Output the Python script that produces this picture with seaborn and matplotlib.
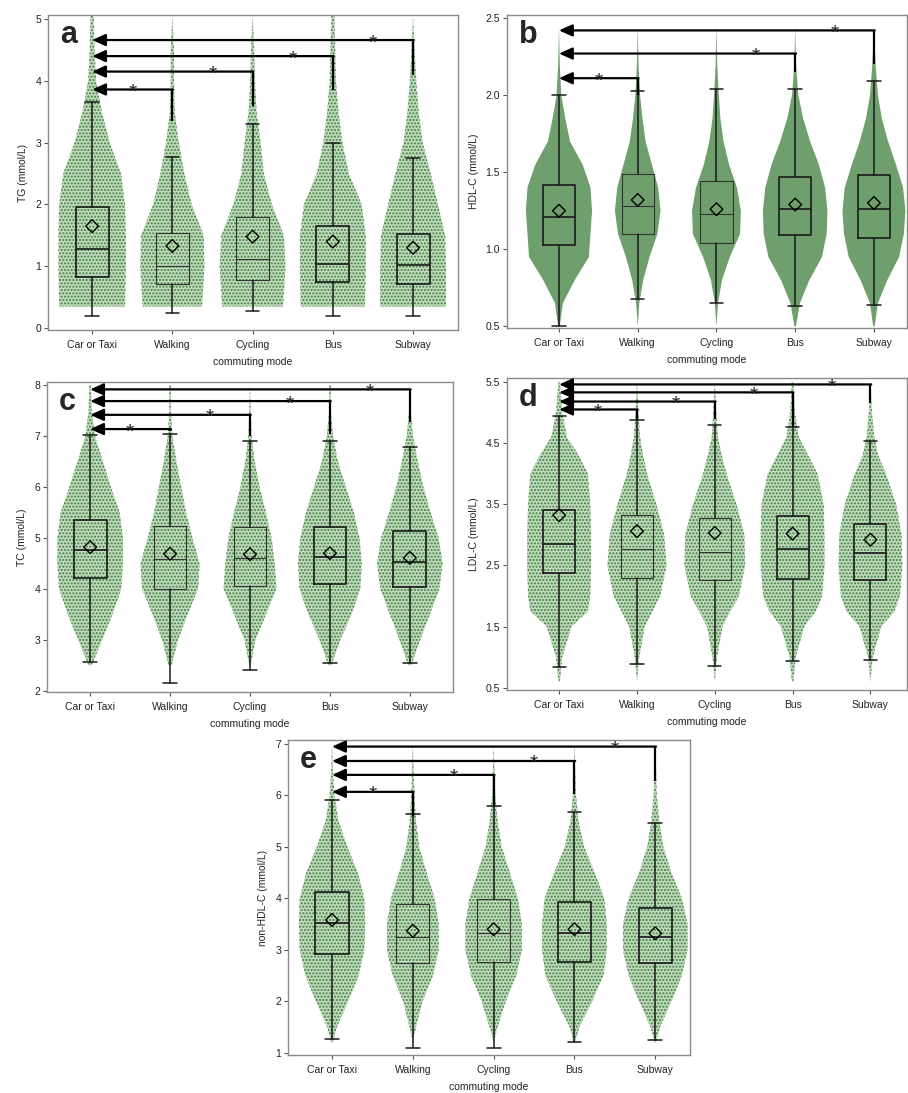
import numpy as np
import pandas as pd
import matplotlib
matplotlib.use("Agg")
import matplotlib.pyplot as plt
import seaborn as sns

# Categorías
modes = ["Car or Taxi", "Walking", "Cycling", "Bus", "Subway"]

# ---- a: TG ----
tg_whislo = [0.20, 0.25, 0.28, 0.20, 0.20]
tg_q1 = [0.82, 0.72, 0.78, 0.74, 0.71]
tg_med = [1.28, 1.00, 1.12, 1.04, 1.02]
tg_q3 = [1.96, 1.54, 1.79, 1.65, 1.52]
tg_whishi = [3.66, 2.77, 3.30, 3.00, 2.75]
tg_mean = [1.65, 1.33, 1.48, 1.40, 1.30]
tg_grid = [0.35, 1.0, 1.5, 2.0, 2.5, 3.0, 3.5, 4.0, 4.5, 5.05]
tg_width = {
    "Car or Taxi": [0.41, 0.42, 0.42, 0.41, 0.36, 0.22, 0.12, 0.05, 0.03, 0.02],
    "Walking": [0.37, 0.40, 0.39, 0.24, 0.15, 0.08, 0.03, 0.02, 0.02, 0.0],
    "Cycling": [0.38, 0.41, 0.39, 0.24, 0.14, 0.10, 0.05, 0.03, 0.02, 0.0],
    "Bus": [0.40, 0.41, 0.41, 0.36, 0.20, 0.12, 0.07, 0.04, 0.03, 0.02],
    "Subway": [0.41, 0.41, 0.40, 0.31, 0.22, 0.12, 0.07, 0.04, 0.02, 0.0],
}
tg_sig_to = [1, 2, 3, 4]
tg_sig_top = [3.86, 4.15, 4.40, 4.66]
tg_sig_base = [3.35, 3.60, 3.85, 4.10]

# ---- b: HDL-C ----
hdl_whislo = [0.50, 0.68, 0.65, 0.63, 0.64]
hdl_q1 = [1.03, 1.10, 1.04, 1.09, 1.07]
hdl_med = [1.21, 1.28, 1.23, 1.26, 1.26]
hdl_q3 = [1.42, 1.49, 1.44, 1.47, 1.48]
hdl_whishi = [2.00, 2.03, 2.04, 2.04, 2.09]
hdl_mean = [1.25, 1.32, 1.26, 1.29, 1.30]
hdl_grid = [0.5, 0.65, 0.8, 0.95, 1.1, 1.25, 1.4, 1.55, 1.7, 1.85, 2.0, 2.2, 2.45]
hdl_width = {
    "Car or Taxi": [0.01, 0.05, 0.20, 0.38, 0.40, 0.42, 0.40, 0.30, 0.14, 0.08, 0.03, 0.01, 0.0],
    "Walking": [0.0, 0.02, 0.07, 0.15, 0.25, 0.29, 0.26, 0.18, 0.10, 0.06, 0.03, 0.01, 0.0],
    "Cycling": [0.0, 0.02, 0.07, 0.17, 0.30, 0.31, 0.26, 0.16, 0.09, 0.05, 0.03, 0.01, 0.0],
    "Bus": [0.01, 0.06, 0.18, 0.34, 0.40, 0.41, 0.38, 0.30, 0.19, 0.10, 0.04, 0.01, 0.0],
    "Subway": [0.01, 0.05, 0.17, 0.32, 0.38, 0.40, 0.37, 0.28, 0.18, 0.10, 0.05, 0.02, 0.0],
}
hdl_sig_to = [1, 3, 4]
hdl_sig_top = [2.11, 2.27, 2.42]
hdl_sig_base = [2.00, 2.15, 2.20]

# ---- c: TC ----
tc_whislo = [2.56, 2.16, 2.41, 2.54, 2.54]
tc_q1 = [4.22, 4.00, 4.06, 4.09, 4.03]
tc_med = [4.76, 4.59, 4.60, 4.62, 4.52]
tc_q3 = [5.35, 5.24, 5.21, 5.22, 5.14]
tc_whishi = [7.03, 7.04, 6.90, 6.91, 6.79]
tc_mean = [4.82, 4.69, 4.68, 4.70, 4.61]
tc_grid = [2.5, 3.0, 3.5, 4.0, 4.5, 5.0, 5.5, 6.0, 6.5, 7.0, 7.5, 8.0]
tc_width = {
    "Car or Taxi": [0.02, 0.15, 0.28, 0.39, 0.41, 0.41, 0.37, 0.26, 0.16, 0.06, 0.02, 0.01],
    "Walking": [0.02, 0.10, 0.22, 0.35, 0.37, 0.28, 0.20, 0.14, 0.08, 0.03, 0.01, 0.01],
    "Cycling": [0.01, 0.07, 0.20, 0.33, 0.31, 0.27, 0.20, 0.12, 0.06, 0.02, 0.01, 0.0],
    "Bus": [0.02, 0.13, 0.27, 0.38, 0.40, 0.37, 0.30, 0.20, 0.10, 0.04, 0.01, 0.01],
    "Subway": [0.02, 0.13, 0.25, 0.37, 0.41, 0.36, 0.26, 0.17, 0.10, 0.04, 0.01, 0.0],
}
tc_sig_to = [1, 2, 3, 4]
tc_sig_top = [7.14, 7.42, 7.69, 7.92]
tc_sig_base = [7.10, 7.00, 7.05, 7.27]

# ---- d: LDL-C ----
ldl_whislo = [0.84, 0.88, 0.85, 0.93, 0.96]
ldl_q1 = [2.37, 2.29, 2.26, 2.28, 2.26]
ldl_med = [2.85, 2.77, 2.72, 2.77, 2.71]
ldl_q3 = [3.40, 3.33, 3.28, 3.30, 3.17]
ldl_whishi = [4.95, 4.88, 4.80, 4.77, 4.54]
ldl_mean = [3.32, 3.06, 3.03, 3.02, 2.92]
ldl_grid = [0.6, 1.0, 1.5, 1.75, 2.0, 2.5, 3.0, 3.5, 4.0, 4.3, 4.6, 5.0, 5.5]
ldl_width = {
    "Car or Taxi": [0.01, 0.04, 0.16, 0.37, 0.40, 0.41, 0.41, 0.40, 0.37, 0.25, 0.10, 0.04, 0.01],
    "Walking": [0.0, 0.03, 0.10, 0.20, 0.30, 0.38, 0.35, 0.25, 0.13, 0.08, 0.04, 0.02, 0.0],
    "Cycling": [0.0, 0.03, 0.10, 0.20, 0.31, 0.39, 0.38, 0.28, 0.15, 0.09, 0.04, 0.02, 0.0],
    "Bus": [0.01, 0.04, 0.15, 0.30, 0.38, 0.41, 0.41, 0.40, 0.32, 0.20, 0.08, 0.03, 0.01],
    "Subway": [0.0, 0.03, 0.14, 0.31, 0.38, 0.41, 0.40, 0.33, 0.20, 0.10, 0.05, 0.02, 0.0],
}
ldl_sig_to = [1, 2, 3, 4]
ldl_sig_top = [5.05, 5.18, 5.33, 5.46]
ldl_sig_base = [4.88, 4.90, 4.77, 5.16]

# ---- e: non-HDL-C ----
nhdl_whislo = [1.26, 1.10, 1.10, 1.20, 1.25]
nhdl_q1 = [2.92, 2.74, 2.77, 2.77, 2.74]
nhdl_med = [3.52, 3.25, 3.33, 3.32, 3.24]
nhdl_q3 = [4.13, 3.89, 3.98, 3.93, 3.82]
nhdl_whishi = [5.91, 5.63, 5.79, 5.67, 5.46]
nhdl_mean = [3.58, 3.37, 3.40, 3.40, 3.32]
nhdl_grid = [1.2, 1.5, 2.0, 2.5, 3.0, 3.5, 4.0, 4.5, 5.0, 5.5, 6.0, 6.5, 7.0]
nhdl_width = {
    "Car or Taxi": [0.01, 0.06, 0.20, 0.33, 0.40, 0.41, 0.40, 0.32, 0.19, 0.08, 0.03, 0.01, 0.0],
    "Walking": [0.0, 0.04, 0.12, 0.25, 0.32, 0.32, 0.27, 0.17, 0.08, 0.04, 0.02, 0.01, 0.0],
    "Cycling": [0.0, 0.05, 0.15, 0.28, 0.35, 0.35, 0.30, 0.20, 0.10, 0.05, 0.02, 0.01, 0.0],
    "Bus": [0.01, 0.06, 0.22, 0.36, 0.40, 0.40, 0.37, 0.25, 0.12, 0.05, 0.02, 0.01, 0.0],
    "Subway": [0.01, 0.06, 0.20, 0.33, 0.40, 0.40, 0.33, 0.20, 0.10, 0.05, 0.02, 0.01, 0.0],
}
nhdl_sig_to = [1, 2, 3, 4]
nhdl_sig_top = [6.07, 6.40, 6.67, 6.95]
nhdl_sig_base = [5.60, 5.80, 6.03, 6.29]

sns.set_style("white")
plt.rcParams["font.family"] = ["Liberation Sans", "DejaVu Sans"]
plt.rcParams["hatch.linewidth"] = 1.0

W, H = 908, 1093
fig = plt.figure(figsize=(W / 100, H / 100), dpi=100)


def eje(left, top, right, bottom):
    # posiciones en píxeles -> fracción de figura
    return fig.add_axes([left / W, 1 - bottom / H, (right - left) / W, (bottom - top) / H])


def panel(ax, letra, ylabel, lo, q1, med, q3, hi, mean, grid, width,
          sig_to, sig_top, sig_base, xlim, ylim, yticks, yfmt, denso=False):
    pos = np.arange(len(modes))

    # nube de puntos (contorno)
    for i, m in enumerate(modes):
        w = np.array(width[m])
        if denso:
            ax.fill_betweenx(grid, i - w, i + w, facecolor="#6e9f6c", edgecolor="none",
                             linewidth=0, zorder=1)
        else:
            ax.fill_betweenx(grid, i - w, i + w, facecolor="#c2dabe", edgecolor="none",
                             linewidth=0, zorder=1)
            ax.fill_betweenx(grid, i - w, i + w, facecolor="none", edgecolor="#3f7f3c",
                             linewidth=0, hatch=".....", zorder=1.5)

    for i in range(len(modes)):
        s = dict(whislo=lo[i], q1=q1[i], med=med[i], q3=q3[i], whishi=hi[i], fliers=[])
        fino = modes[i] in ("Walking", "Cycling")
        lw = 0.8 if fino else 1.2
        col = "#333333" if fino else "#1a1a1a"
        ax.bxp([s], positions=[i], widths=0.41, capwidths=0.17, showfliers=False, patch_artist=False,
               boxprops=dict(color=col, linewidth=lw),
               medianprops=dict(color=col, linewidth=lw),
               whiskerprops=dict(color="#1a1a1a", linewidth=1.1),
               capprops=dict(color="#1a1a1a", linewidth=1.1), manage_ticks=False, zorder=3)

    df = pd.DataFrame({"pos": pos, "media": mean})
    sns.scatterplot(data=df, x="pos", y="media", marker="D", s=42, color="none",
                    edgecolor="black", linewidth=1.0, ax=ax, zorder=5, legend=False)

    # corchetes de significancia
    for k, top, base in zip(sig_to, sig_top, sig_base):
        ax.plot([k, k], [base, top], color="black", lw=1.6, solid_capstyle="butt", zorder=6)
        ax.annotate("", xy=(0, top), xytext=(k + 0.01, top),
                    arrowprops=dict(arrowstyle="-|>,head_length=0.8,head_width=0.36",
                                    color="black", lw=1.6, shrinkA=0, shrinkB=0), zorder=6)
        ax.annotate("*", xy=(k - 0.5, top), xytext=(0, -6), textcoords="offset points",
                    ha="center", va="baseline", fontsize=15, zorder=7)

    ax.set_xlim(*xlim)
    ax.set_ylim(*ylim)
    ax.set_xticks(pos)
    ax.set_xticklabels(modes, fontsize=7.5, color="#222222")
    ax.set_yticks(yticks)
    ax.set_yticklabels([yfmt.format(t) for t in yticks], fontsize=7.5, color="#222222")
    ax.set_xlabel("commuting mode", fontsize=7.5, color="#222222", labelpad=5)
    ax.set_ylabel(ylabel, fontsize=7.5, color="#222222", labelpad=5)
    ax.tick_params(axis="both", direction="out", length=3, width=0.8, color="#555555",
                   left=True, bottom=True, pad=2)
    ax.tick_params(axis="x", pad=4)
    for sp in ax.spines.values():
        sp.set_color("#8a8a8a")
        sp.set_linewidth(1.0)
    ax.text(0.03, 0.985, letra, transform=ax.transAxes, fontsize=22, fontweight="bold",
            ha="left", va="top", zorder=8)


ax_a = eje(48, 15, 458, 330)
panel(ax_a, "a", "TG (mmol/L)", tg_whislo, tg_q1, tg_med, tg_q3, tg_whishi, tg_mean,
      tg_grid, tg_width, tg_sig_to, tg_sig_top, tg_sig_base,
      (-0.55, 4.56), (-0.03, 5.065), [0, 1, 2, 3, 4, 5], "{:d}")

ax_b = eje(507, 15, 907, 328)
panel(ax_b, "b", "HDL-C (mmol/L)", hdl_whislo, hdl_q1, hdl_med, hdl_q3, hdl_whishi, hdl_mean,
      hdl_grid, hdl_width, hdl_sig_to, hdl_sig_top, hdl_sig_base,
      (-0.66, 4.42), (0.489, 2.52), [0.5, 1.0, 1.5, 2.0, 2.5], "{:.1f}", denso=True)

ax_c = eje(47, 382, 453, 692)
panel(ax_c, "c", "TC (mmol/L)", tc_whislo, tc_q1, tc_med, tc_q3, tc_whishi, tc_mean,
      tc_grid, tc_width, tc_sig_to, tc_sig_top, tc_sig_base,
      (-0.54, 4.54), (1.974, 8.065), [2, 3, 4, 5, 6, 7, 8], "{:d}")

ax_d = eje(507, 378, 907, 690)
panel(ax_d, "d", "LDL-C (mmol/L)", ldl_whislo, ldl_q1, ldl_med, ldl_q3, ldl_whishi, ldl_mean,
      ldl_grid, ldl_width, ldl_sig_to, ldl_sig_top, ldl_sig_base,
      (-0.67, 4.47), (0.462, 5.565), [0.5, 1.5, 2.5, 3.5, 4.5, 5.5], "{:.1f}")

ax_e = eje(288, 740, 690, 1055)
panel(ax_e, "e", "non-HDL-C (mmol/L)", nhdl_whislo, nhdl_q1, nhdl_med, nhdl_q3, nhdl_whishi, nhdl_mean,
      nhdl_grid, nhdl_width, nhdl_sig_to, nhdl_sig_top, nhdl_sig_base,
      (-0.545, 4.43), (0.955, 7.078), [1, 2, 3, 4, 5, 6, 7], "{:d}")

fig.savefig("out.png", dpi=100)
